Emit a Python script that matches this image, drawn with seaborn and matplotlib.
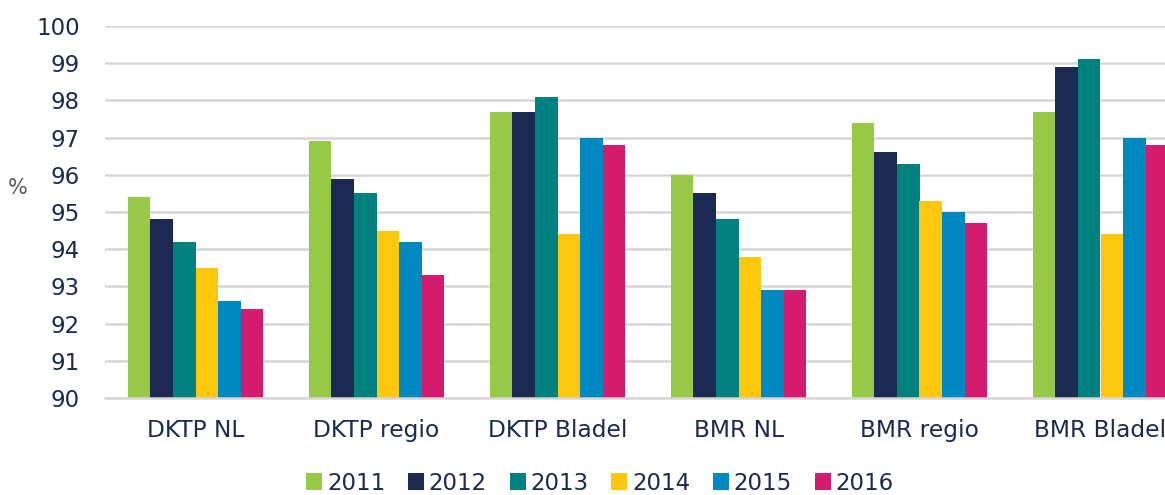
import matplotlib
matplotlib.use("Agg")
import matplotlib.pyplot as plt
import seaborn as sns
import pandas as pd

categories = ["DKTP NL", "DKTP regio", "DKTP Bladel", "BMR NL", "BMR regio", "BMR Bladel"]
years = ["2011", "2012", "2013", "2014", "2015", "2016"]
v2011 = [95.4, 96.9, 97.7, 96.0, 97.4, 97.7]
v2012 = [94.8, 95.9, 97.7, 95.5, 96.6, 98.9]
v2013 = [94.2, 95.5, 98.1, 94.8, 96.3, 99.1]
v2014 = [93.5, 94.5, 94.4, 93.8, 95.3, 94.4]
v2015 = [92.6, 94.2, 97.0, 92.9, 95.0, 97.0]
v2016 = [92.4, 93.3, 96.8, 92.9, 94.7, 96.8]
series = [v2011, v2012, v2013, v2014, v2015, v2016]
colors = ["#97c947", "#1b2a52", "#00807f", "#fdc70f", "#0089c0", "#d41b6e"]

rows = []
for y, vals in zip(years, series):
    for c, v in zip(categories, vals):
        rows.append({"cat": c, "year": y, "val": v})
df = pd.DataFrame(rows)

sns.set_theme(style="white")
plt.rcParams['font.family'] = ['DejaVu Sans']

fig = plt.figure(figsize=(11.65, 4.95), dpi=100)
ax = fig.add_axes([105/1165, 1 - 398/495, 1086/1165, 372/495])

sns.barplot(data=df, x="cat", y="val", hue="year", order=categories, hue_order=years,
            palette=colors, width=0.746, gap=0, saturation=1, ax=ax,
            edgecolor="none", linewidth=0, legend=True)

ax.set_ylim(90, 100)
ax.set_yticks(range(90, 101))
ax.set_xlim(-0.5, 5.5)
ax.yaxis.grid(True, color="#d6d6d6", linewidth=1.8)
ax.set_axisbelow(True)
for s in ["top", "right", "left"]:
    ax.spines[s].set_visible(False)
ax.spines["bottom"].set_color("#d6d6d6")
ax.spines["bottom"].set_linewidth(1.8)
ax.tick_params(axis="y", length=0, labelsize=16.5, colors="#1b2a52", pad=18)
ax.tick_params(axis="x", length=0, labelsize=16.8, colors="#1b2a52", pad=15)
ax.set_xlabel("")
ax.set_ylabel("")
fig.text(18/1165, 1 - 188/495, "%", fontsize=15, color="#595959", ha="center", va="center")

handles, labels = ax.get_legend_handles_labels()
ax.get_legend().remove()
fig.legend(handles, labels, loc="center", bbox_to_anchor=(600/1165, 1 - 483/495), ncol=6,
           frameon=False, fontsize=16.5, labelcolor="#1b2a52", handlelength=0.7, handleheight=0.7,
           handletextpad=0.2, columnspacing=1.0)

fig.savefig("out.png", dpi=100)
